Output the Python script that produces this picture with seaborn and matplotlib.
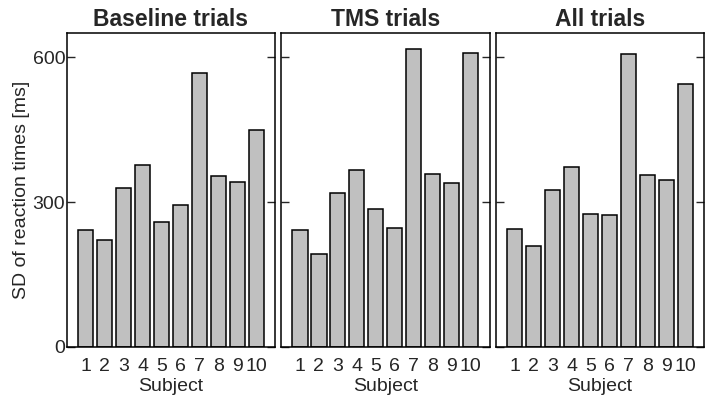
import pandas as pd
import matplotlib
matplotlib.use('Agg')
import matplotlib.pyplot as plt
import seaborn as sns

subjects = ['1', '2', '3', '4', '5', '6', '7', '8', '9', '10']
panel_titles = ['Baseline trials', 'TMS trials', 'All trials']

# SD of reaction times per subject [ms]
baseline_sd = [243, 221, 330, 376, 258, 293, 567, 354, 342, 449]
tms_sd = [242, 192, 319, 366, 285, 247, 618, 359, 339, 609]
all_sd = [244, 208, 325, 373, 276, 273, 607, 357, 346, 544]

y_ticks = [0, 300, 600]

sns.set_style('white')
plt.rcParams['font.family'] = ['Liberation Sans', 'DejaVu Sans']

rows = []
for title, vals in zip(panel_titles, [baseline_sd, tms_sd, all_sd]):
    for s, v in zip(subjects, vals):
        rows.append({'panel': title, 'Subject': s, 'sd': v})
df = pd.DataFrame(rows)

fig = plt.figure(figsize=(7.14, 4.03), dpi=100)
lefts = [0.0934, 0.3936, 0.6943]
axes = [fig.add_axes([l, 0.1397, 0.292, 0.7777]) for l in lefts]

for i, (ax, title) in enumerate(zip(axes, panel_titles)):
    d = df[df['panel'] == title]
    sns.barplot(data=d, x='Subject', y='sd', order=subjects, color='#c0c0c0',
                edgecolor='black', linewidth=1.1, width=0.8, saturation=1, ax=ax)
    ax.set_xlim(-1, 10)
    ax.set_ylim(0, 650)
    ax.set_yticks(y_ticks)
    ax.set_title(title, fontsize=16.5, fontweight='bold', pad=5)
    ax.set_xlabel('Subject', fontsize=14, labelpad=2)
    ax.tick_params(axis='x', length=0, labelsize=14, pad=8)
    ax.tick_params(axis='y', direction='in', left=True, right=True, length=6,
                   width=1, labelsize=14, pad=1)
    for sp in ax.spines.values():
        sp.set_color('black')
        sp.set_linewidth(1.1)
    if i == 0:
        ax.set_ylabel('SD of reaction times [ms]', fontsize=14, labelpad=2)
    else:
        ax.set_ylabel('')
        ax.set_yticklabels([])

fig.savefig('out.png', dpi=100)
